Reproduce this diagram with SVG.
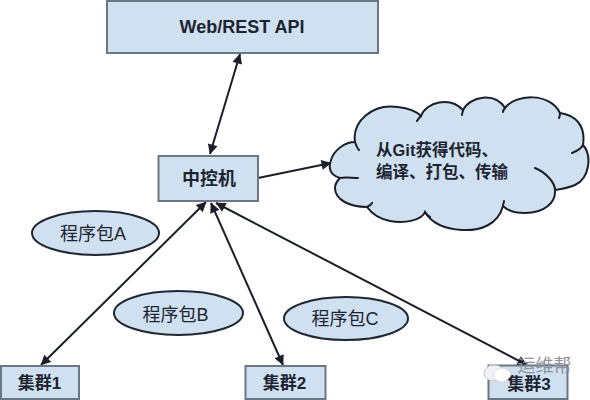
<svg xmlns="http://www.w3.org/2000/svg" width="590" height="400" viewBox="0 0 590 400">
<style>
.box{fill:#cfe0f1;stroke:#6d7784;stroke-width:2}
.ell{fill:#cfe0f1;stroke:#1f2733;stroke-width:2}
.t{font-family:"Liberation Sans","Noto Sans CJK SC",sans-serif;fill:#1d2430;text-anchor:middle}
.b{font-weight:700}
.s{text-anchor:start}
.c{fill:none;stroke:#1a1f28;stroke-width:2}
.cl{fill:none;stroke:#1a1f28;stroke-width:2;stroke-linecap:round}
</style>
<defs>
<marker id="a" viewBox="0 0 10 10" refX="9.5" refY="5" markerWidth="14" markerHeight="10" markerUnits="userSpaceOnUse" orient="auto-start-reverse"><path d="M0 0L10 5L0 10Z" fill="#1a1f28"/></marker>
</defs>
<rect width="590" height="400" fill="#fff"/>
<g id="connectors">
<path class="c" d="M240 54L210 154" marker-start="url(#a)" marker-end="url(#a)"/>
<path class="c" d="M258 178L331 163" marker-end="url(#a)"/>
<path class="c" d="M206 202L41 365" marker-start="url(#a)" marker-end="url(#a)"/>
<path class="c" d="M211 203L283 365" marker-start="url(#a)" marker-end="url(#a)"/>
<path class="c" d="M216 203L527 365" marker-start="url(#a)" marker-end="url(#a)"/>
</g>
<g id="api"><rect class="box" x="107" y="1" width="271" height="52"/><text class="t b" x="242" y="33" font-size="18">Web/REST API</text></g>
<g id="controller"><rect class="box" x="158.500" y="156" width="99.500" height="45"/><text class="t b" x="209" y="185" font-size="18">中控机</text></g>
<g id="cloud">
<path d="M355 142C352 122 372 103 398 107C407 108 415 110 421 116C426 102 450 96 463 110C470 96 495 92 505 108C515 94 550 92 560 113C575 115 586 125 583 145C592 155 590 178 575 185C568 188 562 189 555 190C556 202 545 213 525 213C515 213 508 211 503 206C498 225 480 231 462 230C445 229 432 224 425 212C422 220 405 224 390 221C380 219 372 214 367 207C350 207 335 200 335 188C335 184 337 181 340 178C330 175 328 168 331 160C334 150 345 142 355 142Z" fill="#cfe0f1" stroke="#1a1f28" stroke-width="2"/>
<path class="cl" d="M340 178C345 177 352 178 358 178M355 142C356 145 357 148 359 150M421 116C420 117 418 119 417 121M463 110C463 112 462 113 462 115M505 108C504 109 503 111 503 112M560 113C560 115 560 116 559 118M583 145C581 149 577 151 572 153M555 190C555 182 545 172 535 168M503 206C503 204 504 203 504 201M425 212C426 214 428 216 430 217M367 207C369 206 371 205 372 203"/>
<text class="t b s" x="376" y="156" font-size="16.500">从Git获得代码、</text>
<text class="t b s" x="376" y="178" font-size="16.500">编译、打包、传输</text>
</g>
<g id="pkgA"><ellipse class="ell" cx="95.500" cy="233" rx="63.500" ry="22"/><text class="t" x="93" y="239.500" font-size="18">程序包A</text></g>
<g id="pkgB"><ellipse class="ell" cx="178.500" cy="313" rx="64.500" ry="22"/><text class="t" x="175.500" y="320.500" font-size="18">程序包B</text></g>
<g id="pkgC"><ellipse class="ell" cx="346" cy="318.500" rx="62" ry="21.500"/><text class="t" x="345" y="325" font-size="18">程序包C</text></g>
<g id="c1"><rect class="box" x="1" y="366" width="78" height="33"/><text class="t b" x="39.500" y="389" font-size="17">集群1</text></g>
<g id="c2"><rect class="box" x="245.500" y="366" width="80" height="33"/><text class="t b" x="284.500" y="389" font-size="17">集群2</text></g>
<g id="c3"><rect class="box" x="488.500" y="365.500" width="79" height="33.500"/></g>
<g id="watermark">
<ellipse cx="494" cy="373" rx="10" ry="8" fill="#eef2f6" stroke="#c4c8cc"/>
<ellipse cx="502" cy="375" rx="8.500" ry="7" fill="#fff" stroke="#d5d8db"/>
<text class="t" x="544.500" y="372" font-size="18" style="fill:#8f949b">运维帮</text>
</g>
<g id="c3-label"><text class="t b" x="529" y="390" font-size="17">集群3</text></g>
</svg>
